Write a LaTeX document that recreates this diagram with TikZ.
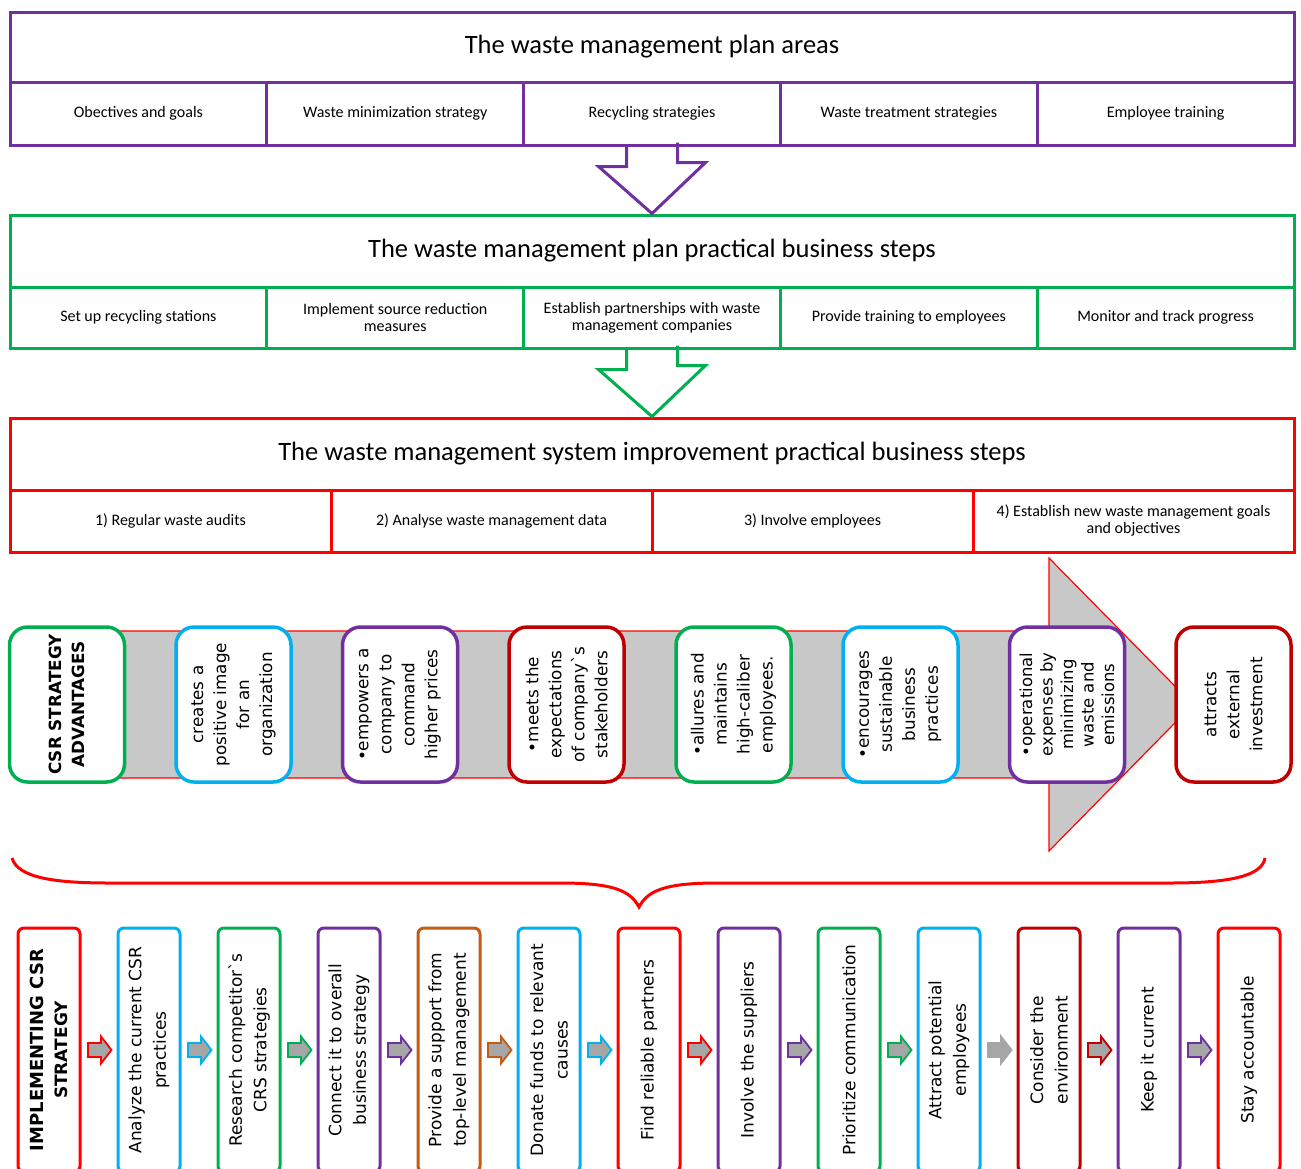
\documentclass[tikz,border=0pt]{standalone}
\usepackage{fontspec}
\setmainfont{Carlito}
\newfontfamily\sansv{DejaVu Sans}
\usetikzlibrary{calc}
\definecolor{cPurple}{HTML}{7030A0}
\definecolor{cGreen}{HTML}{00B050}
\definecolor{cRed}{HTML}{FF0000}
\definecolor{cBlue}{HTML}{00B0F0}
\definecolor{cDark}{HTML}{C00000}
\definecolor{cOrange}{HTML}{C55A11}
\definecolor{cBand}{HTML}{C8C8C8}
\definecolor{cArrow}{HTML}{A6A6A6}
\begin{document}
\begin{tikzpicture}[x=1pt,y=-1pt,
  cell/.style={draw, line width=3pt, inner sep=2pt, align=center,
    font=\fontsize{16}{17}\selectfont},
  titlecell/.style={draw, line width=3pt, minimum width=1284pt,
    font=\fontsize{26.5}{30}\selectfont},
  hollow/.style={line width=3pt, line join=miter},
  adv/.style={draw, fill=white, line width=3.5pt, rounded corners=18pt,
    rotate=90, minimum width=155pt, minimum height=115pt, align=center,
    inner sep=0pt, font=\sansv\fontsize{16.8}{23}\selectfont},
  impl/.style={draw, fill=white, line width=3pt, rounded corners=6pt,
    rotate=90, minimum width=244pt, minimum height=62pt, align=center,
    inner sep=0pt, font=\sansv\fontsize{17}{24.5}\selectfont},
  sarrow/.style={line width=1.8pt, fill=cArrow, line join=miter},
]
\useasboundingbox (0,0) rectangle (1301,1168);
\clip (0,0) rectangle (1301,1168);

% ---------- plan areas ----------
\node[titlecell, draw=cPurple, minimum height=70pt] (pT) at (652,47)
  {The waste management plan areas};
\foreach \t [count=\i from 0] in {Obectives and goals, Waste minimization strategy,
    Recycling strategies, Waste treatment strategies, Employee training}
  \node[cell, draw=cPurple, minimum width=256.8pt, minimum height=63pt] (p\i)
    at ({10+256.8*(\i+0.5)},113.5) {\t};

% ---------- practical business steps ----------
\node[titlecell, draw=cGreen, minimum height=72pt] (gT) at (652,251)
  {The waste management plan practical business steps};
\foreach \t [count=\i from 0] in {Set up recycling stations,
    {Implement source reduction\\measures},
    {Establish partnerships with waste\\management companies},
    Provide training to employees, Monitor and track progress}
  \node[cell, draw=cGreen, minimum width=256.8pt, minimum height=61pt] (g\i)
    at ({10+256.8*(\i+0.5)},317.5) {\t};

% ---------- system improvement steps ----------
\node[titlecell, draw=cRed, minimum height=72pt] (rT) at (652,454)
  {The waste management system improvement practical business steps};
\foreach \t [count=\i from 0] in {1) Regular waste audits,
    2) Analyse waste management data, 3) Involve employees,
    {4) Establish new waste management goals\\and objectives}}
  \node[cell, draw=cRed, minimum width=321pt, minimum height=62pt] (r\i)
    at ({10+321*(\i+0.5)},521) {\t};

% hollow arrows between the panels
\draw[hollow, draw=cPurple] ($(p2.south)+(-25.5,0)$) -- ++(0,20) -- ++(-28,0)
  -- (gT.north) -- ++(53.5,-51) -- ++(-28,0) -- ++(0,-20);
\draw[hollow, draw=cGreen] ($(g2.south)+(-25.5,0)$) -- ++(0,20) -- ++(-28,0)
  -- (rT.north) -- ++(53.5,-51) -- ++(-28,0) -- ++(0,-20);

% ---------- CSR strategy advantages ----------
\draw[cRed, line width=1.2pt, fill=cBand, line join=miter]
  (65,631) -- (1049,631) -- (1049,558) -- (1193,704.5) -- (1049,851)
  -- (1049,778) -- (65,778) -- cycle;

\node[adv, draw=cGreen] (a1) at (67,704.5)
  {\bfseries CSR STRATEGY\\\bfseries ADVANTAGES};
\node[adv, draw=cBlue] (a2) at (233.5,704.5)
  {creates a\\positive image\\for an\\organization};
\node[adv, draw=cPurple] (a3) at (400,704.5)
  {•empowers a\\company to\\command\\higher prices};
\node[adv, draw=cDark] (a4) at (566.5,704.5)
  {•meets the\\expectations\\of company`s\\stakeholders};
\node[adv, draw=cGreen] (a5) at (733.5,704.5)
  {•allures and\\maintains\\high-caliber\\employees.};
\node[adv, draw=cBlue] (a6) at (900.5,704.5)
  {•encourages\\sustainable\\business\\practices};
\node[adv, draw=cPurple, font=\sansv\fontsize{16.5}{20.5}\selectfont] (a7) at (1067,704.5)
  {•operational\\expenses by\\minimizing\\waste and\\emissions};
\node[adv, draw=cDark] (a8) at (1233.5,704.5)
  {attracts\\external\\investment};

% brace gathering the implementation steps
\draw[cRed, line width=3pt]
  (12,858) .. controls (18,878) and (55,883) .. (110,883) -- (560,883)
  .. controls (612,883) and (630,890) .. (639,907)
  .. controls (648,890) and (666,883) .. (718,883) -- (1170,883)
  .. controls (1230,883) and (1262,876) .. (1265,858);

% ---------- implementing CSR strategy ----------
\foreach \c/\t [count=\i from 1] in {
    cRed/{\fontsize{18}{24.5}\selectfont\bfseries IMPLEMENTING CSR\\\bfseries STRATEGY},
    cBlue/{Analyze the current CSR\\practices},
    cGreen/{Research competitor`s\\CRS strategies},
    cPurple/{Connect it to overall\\business strategy},
    cOrange/{Provide a support from\\top-level management},
    cBlue/{Donate funds to relevant\\causes},
    cRed/{Find reliable partners},
    cPurple/{Involve the suppliers},
    cGreen/{Prioritize communication},
    cBlue/{Attract potential\\employees},
    cDark/{Consider the\\environment},
    cPurple/{Keep it current},
    cRed/{Stay accountable}}
  \node[impl, draw=\c] (b\i) at ({49+100*(\i-1)},1050) {\t};

\foreach \c [count=\i from 1] in {cRed,cBlue,cGreen,cPurple,cOrange,cBlue,
    cRed,cPurple,cGreen,cArrow,cDark,cPurple} {
  \pgfmathtruncatemacro\j{\i+1}
  \path ($(b\i.center)!0.5!(b\j.center)$) coordinate (m\i);
  \draw[sarrow, draw=\c] (m\i) ++(-11,-7) -- ++(13,0) -- ++(0,-6.5)
    -- ++(10.5,13.5) -- ++(-10.5,13.5) -- ++(0,-6.5) -- ++(-13,0) -- cycle;
}
\end{tikzpicture}
\end{document}
